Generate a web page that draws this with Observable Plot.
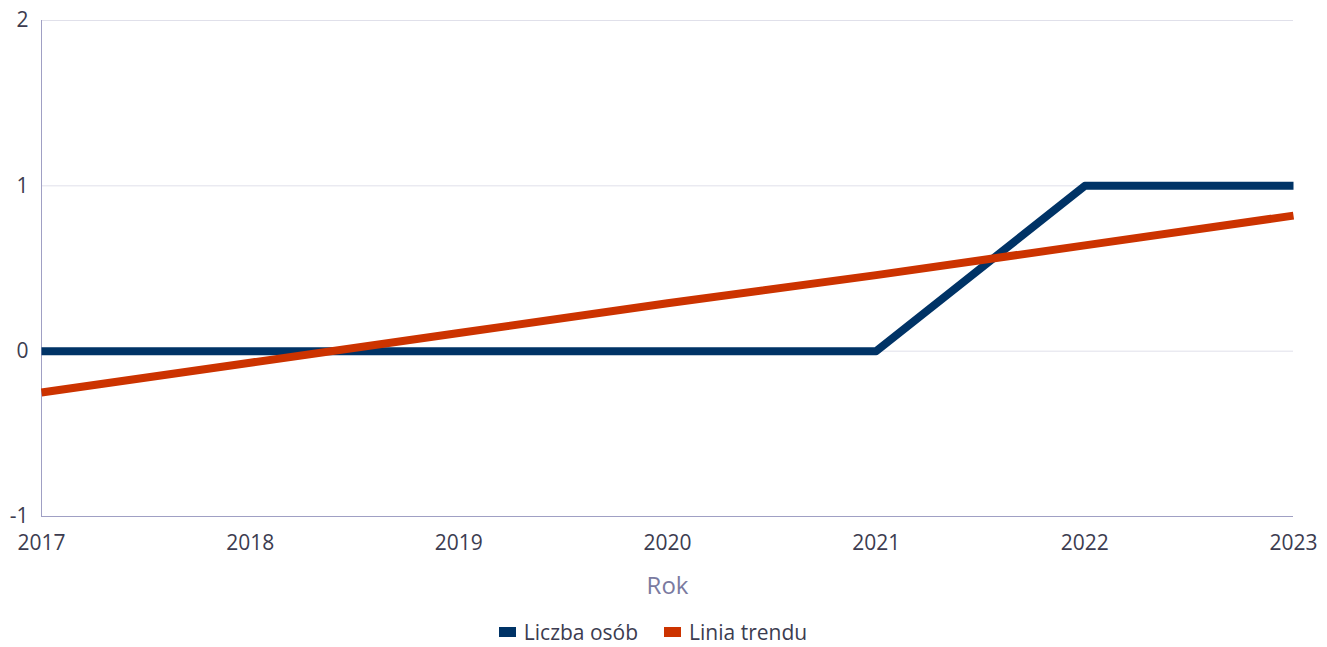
<!DOCTYPE html>
<html>
<head>
<meta charset="utf-8">
<script src="https://cdn.jsdelivr.net/npm/d3@7"></script>
<script src="https://cdn.jsdelivr.net/npm/@observablehq/plot@0.6"></script>
<style>
  body { margin: 0; background: #fff; font-family: "Open Sans", "Noto Sans", sans-serif; }
  #chart svg { display: block; }
  .legend { display: flex; justify-content: center; gap: 26px; font-size: 21px; color: #3c3c50; margin-top: 13px; margin-left: -21px; }
  .legend span.item { display: flex; align-items: center; }
  .legend span.sw { display: inline-block; width: 17px; height: 10px; margin-right: 8px; }
</style>
</head>
<body>
<div id="chart"></div>
<div class="legend" id="legend"></div>
<script>
const years = [2017, 2018, 2019, 2020, 2021, 2022, 2023];
const liczbaOsob = [0, 0, 0, 0, 0, 1, 1];
const liniaTrendu = [-0.25, -0.07, 0.11, 0.29, 0.46, 0.64, 0.82];
const seriesNames = ["Liczba osób", "Linia trendu"];
const seriesColors = ["#003366", "#cc3300"];
const yTicks = [-1, 0, 1, 2];

const rows = [];
years.forEach((y, i) => {
  rows.push({year: y, value: liczbaOsob[i], series: seriesNames[0]});
  rows.push({year: y, value: liniaTrendu[i], series: seriesNames[1]});
});

const chart = Plot.plot({
  width: 1327,
  height: 605,
  marginLeft: 41,
  marginRight: 34,
  marginTop: 20,
  marginBottom: 89,
  style: {fontFamily: "'Open Sans', 'Noto Sans', sans-serif", fontSize: "21px", color: "#3c3c50", background: "#fff"},
  x: {domain: [2017, 2023], ticks: years, tickFormat: d => String(d), label: null},
  y: {domain: [-1, 2], ticks: yTicks, tickFormat: d => String(d), label: null},
  color: {domain: seriesNames, range: seriesColors},
  marks: [
    Plot.ruleY([0, 1, 2], {stroke: "#e0e0ea", strokeWidth: 1}),
    Plot.axisY({ticks: yTicks, tickSize: 0, tickPadding: 13, tickFormat: d => String(d), label: null, fill: "#3c3c50"}),
    Plot.axisX({ticks: years, tickSize: 0, tickPadding: 19, tickFormat: d => String(d), label: null, fill: "#3c3c50"}),
    Plot.text(["Rok"], {frameAnchor: "bottom", dy: 77, fontSize: 24, fill: "#7a7aa0"}),
    Plot.ruleX([2017], {stroke: "#a0a0c4", strokeWidth: 1}),
    Plot.ruleY([-1], {stroke: "#a0a0c4", strokeWidth: 1}),
    Plot.line(rows, {x: "year", y: "value", z: "series", stroke: "series", strokeWidth: 8, strokeLinecap: "butt", strokeLinejoin: "round"})
  ]
});
document.getElementById("chart").appendChild(chart);

const legend = document.getElementById("legend");
seriesNames.forEach((n, i) => {
  const item = document.createElement("span");
  item.className = "item";
  const sw = document.createElement("span");
  sw.className = "sw";
  sw.style.background = seriesColors[i];
  item.appendChild(sw);
  item.appendChild(document.createTextNode(n));
  legend.appendChild(item);
});
</script>
</body>
</html>
